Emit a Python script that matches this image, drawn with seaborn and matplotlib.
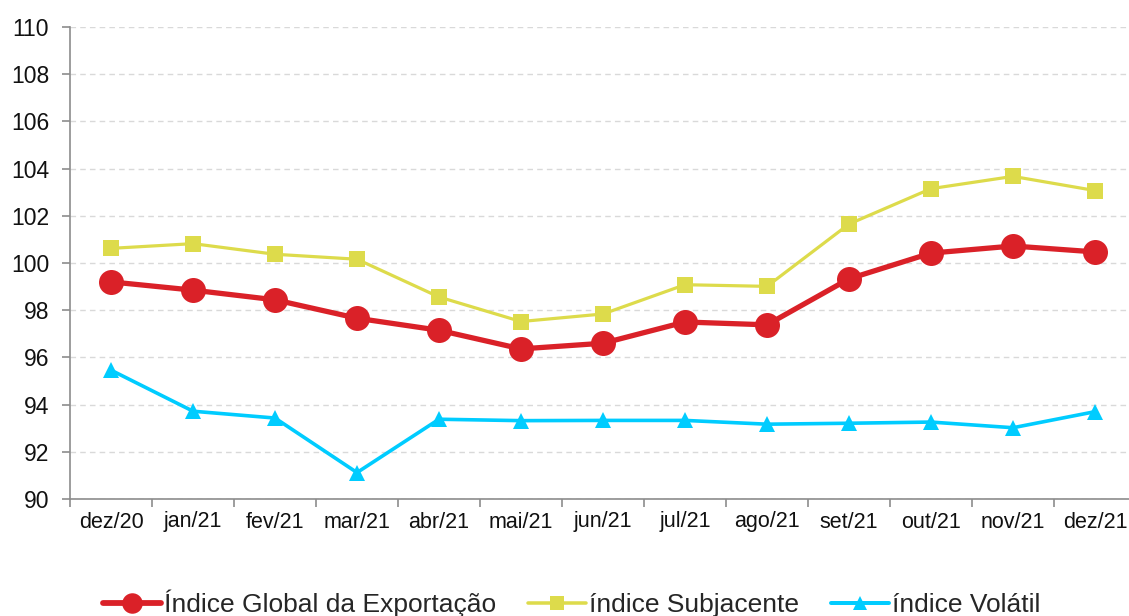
import numpy as np
import pandas as pd
import matplotlib
matplotlib.use("Agg")
import matplotlib.pyplot as plt
import seaborn as sns
from matplotlib.lines import Line2D

categories = ["dez/20", "jan/21", "fev/21", "mar/21", "abr/21", "mai/21", "jun/21",
              "jul/21", "ago/21", "set/21", "out/21", "nov/21", "dez/21"]
global_idx = [99.20, 98.85, 98.44, 97.66, 97.15, 96.36, 96.60, 97.50, 97.38, 99.33, 100.42, 100.72, 100.47]
subjacente = [100.62, 100.82, 100.37, 100.16, 98.56, 97.52, 97.84, 99.08, 99.01, 101.65, 103.15, 103.67, 103.07]
volatil = [95.46, 93.72, 93.43, 91.12, 93.38, 93.32, 93.33, 93.33, 93.17, 93.21, 93.26, 93.02, 93.70]
series_names = ["Índice Global da Exportação", "índice Subjacente", "índice Volátil"]
yticks = list(range(90, 111, 2))

sns.set_theme(style="white")
plt.rcParams['font.family'] = ['Liberation Sans', 'DejaVu Sans']

W, H = 1129, 616
fig = plt.figure(figsize=(W / 100, H / 100), dpi=100)
left, right, top, bottom = 70, 1136, 27, 499
ax = fig.add_axes([left / W, 1 - bottom / H, (right - left) / W, (bottom - top) / H])

x = np.arange(len(categories))
styles = [
    dict(color="#DA2128", marker="o", markersize=18, linewidth=3.8),
    dict(color="#DDDB4B", marker="s", markersize=12, linewidth=2.3),
    dict(color="#00CCFF", marker="^", markersize=12, linewidth=2.6),
]
for vals, name, st in zip([global_idx, subjacente, volatil], series_names, styles):
    df = pd.DataFrame({"x": x, "y": vals})
    sns.lineplot(data=df, x="x", y="y", ax=ax, color=st["color"], marker=st["marker"],
                 markersize=st["markersize"], linewidth=st["linewidth"],
                 markeredgewidth=0, label=name, legend=False, zorder=3)

ax.set_xlim(-0.5, len(categories) - 0.5)
ax.set_ylim(90, 110)
ax.set_yticks(yticks)
ax.set_yticklabels([str(v) for v in yticks], fontsize=16.5)
ax.set_xticks(np.arange(-0.5, len(categories), 1.0))
ax.set_xticklabels([])
ax.set_xticks(x, minor=True)
ax.set_xticklabels(categories, minor=True, fontsize=15.5)
ax.tick_params(axis="x", which="minor", bottom=True, length=0, pad=9, labelcolor="#111111")
ax.tick_params(axis="x", which="major", bottom=True, length=6, width=1.2, color="#8c8c8c", direction="out")
ax.tick_params(axis="y", left=True, length=6, width=1.2, color="#8c8c8c", direction="out", pad=9, labelcolor="#111111")
ax.set_xlabel("")
ax.set_ylabel("")
for s in ["top", "right"]:
    ax.spines[s].set_visible(False)
for s in ["left", "bottom"]:
    ax.spines[s].set_color("#8c8c8c")
    ax.spines[s].set_linewidth(1.2)
ax.yaxis.grid(True, linestyle=(0, (4, 3)), color="#d9d9d9", linewidth=1)
ax.xaxis.grid(False)
ax.set_axisbelow(True)

handles = [Line2D([], [], color=st["color"], marker=st["marker"],
                  markersize=st["markersize"] * 0.82, linewidth=st["linewidth"] * 1.1,
                  markeredgewidth=0) for st in styles]
fig.legend(handles, series_names, loc="center", bbox_to_anchor=(572 / W, 1 - 603 / H),
           ncol=3, frameon=False, fontsize=19, handlelength=2.2, handletextpad=0.12,
           columnspacing=1.2, borderaxespad=0)

fig.savefig("out.png", dpi=100)
